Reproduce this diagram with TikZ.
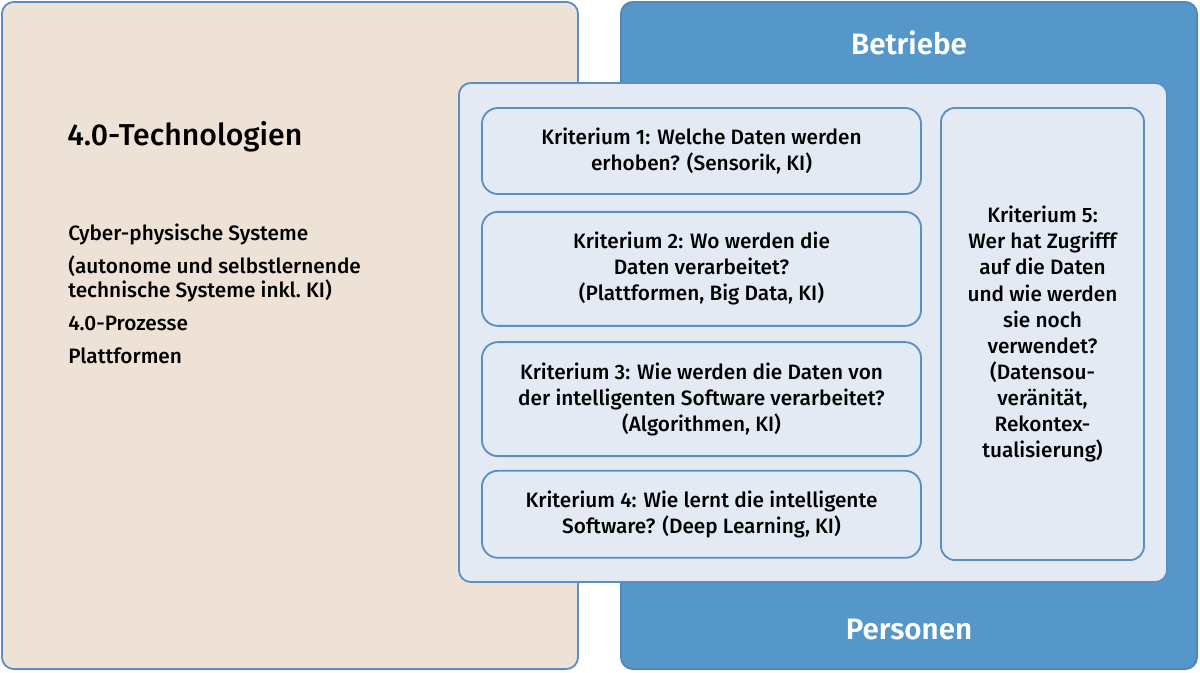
\documentclass[tikz,border=0pt]{standalone}
\usepackage{fontspec}
\setmainfont{Fira Sans Medium}[BoldFont={Fira Sans SemiBold}]
\usetikzlibrary{positioning}

\definecolor{beige}{HTML}{EEE2D7}
\definecolor{blaufill}{HTML}{5597C8}
\definecolor{blaurand}{HTML}{4F86BB}
\definecolor{hellblau}{HTML}{E4EAF4}
\definecolor{kastenrand}{HTML}{5B8FC2}

\begin{document}
\begin{tikzpicture}[
  x=0.025cm, y=-0.025cm,
  node distance=0.4cm,
  bigbox/.style={draw=kastenrand, line width=1.3pt, rounded corners=0.3cm, minimum width=14.4cm, minimum height=16.675cm},
  panel/.style={draw=kastenrand, fill=hellblau, line width=1.3pt, rounded corners=0.3cm, minimum width=17.7cm, minimum height=12.475cm},
  krit/.style={draw=kastenrand, fill=hellblau, line width=1.3pt, rounded corners=0.4cm, minimum width=10.975cm, align=center, font=\fontsize{14.8}{18.5}\selectfont},
  label/.style={text=white, font=\bfseries\fontsize{21}{24}\selectfont}
]
  \useasboundingbox (0,0) rectangle (1200,672);

  % Hintergrundkaesten
  \node (technik) [bigbox, fill=beige] at (290,335.5) {};
  \node (betriebe) [bigbox, fill=blaufill, draw=blaurand] at (909,335.5) {};
  \node (betrtext) [label] at (909,43) {Betriebe};
  \node (personen) [label] at (909,630) {Personen};

  % linke Seite
  \node (titel) [anchor=base west, inner sep=0pt, font=\fontsize{21.5}{24}\selectfont] at (67,145) {4.0-Technologien};
  \node (liste) [anchor=north west, align=left, inner sep=0pt, font=\fontsize{14.8}{17}\selectfont] at (68,224)
    {Cyber-physische Systeme\\[6.5pt]
     (autonome und selbstlernende\\
     technische Systeme inkl.\ KI)\\[6.5pt]
     4.0-Prozesse\\[6.5pt]
     Plattformen};

  % Kriterien
  \node (innen) [panel] at (813,332.5) {};
  \node (krit1) [krit, minimum height=2.15cm] at (701.5,151)
    {Kriterium 1: Welche Daten werden\\ erhoben? (Sensorik, KI)};
  \node (krit2) [krit, minimum height=2.85cm, below=of krit1]
    {Kriterium 2: Wo werden die\\ Daten verarbeitet?\\ (Plattformen, Big Data, KI)};
  \node (krit3) [krit, minimum height=2.85cm, below=0.36cm of krit2]
    {Kriterium 3: Wie werden die Daten von\\ der intelligenten Software verarbeitet?\\ (Algorithmen, KI)};
  \node (krit4) [krit, minimum height=2.175cm, below=0.32cm of krit3]
    {Kriterium 4: Wie lernt die intelligente\\ Software? (Deep Learning, KI)};
  \node (krit5) [krit, minimum width=5.075cm, minimum height=11.3cm, rounded corners=0.35cm] at (1042.5,334)
    {Kriterium 5:\\ Wer hat Zugrifff\\ auf die Daten\\ und wie werden\\ sie noch\\ verwendet?\\ (Datensou-\\ veränität,\\ Rekontex-\\ tualisierung)};
\end{tikzpicture}
\end{document}
